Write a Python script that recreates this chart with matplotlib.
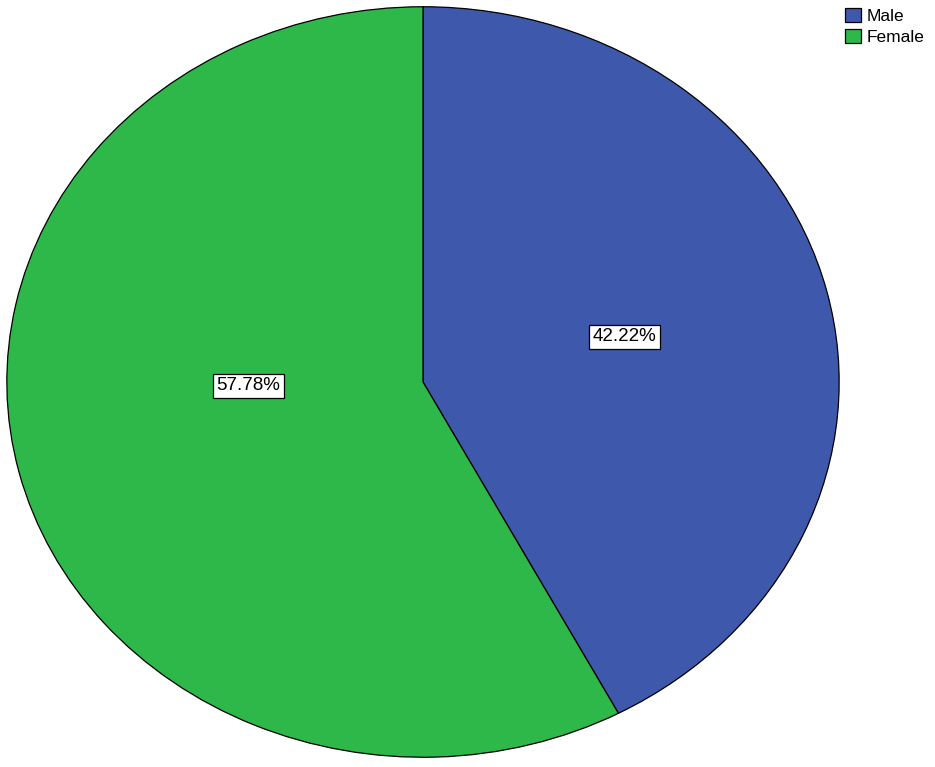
import matplotlib.pyplot as plt
from matplotlib.patches import Patch

# Gender split
labels = ["Male", "Female"]
shares = [42.22, 57.78]
colors = ["#3e58ac", "#2eb84a"]

plt.rcParams["font.family"] = ["Liberation Sans", "DejaVu Sans"]

fig = plt.figure(figsize=(9.35, 7.67), dpi=100)
ax = fig.add_axes([6 / 935, 9 / 767, 834 / 935, 752 / 767])

wedges, texts, autotexts = ax.pie(
    shares, colors=colors, startangle=90, counterclock=False,
    autopct="%.2f%%", pctdistance=0.5,
    wedgeprops=dict(edgecolor="black", linewidth=0.9),
    textprops=dict(fontsize=13.5),
)
ax.set_aspect("auto")
ax.set_xlim(-1.002, 1.002)
ax.set_ylim(-1.002, 1.002)

# SPSS puts the bigger slice's label closer to the middle
autotexts[1].set_position((-0.42, -0.01))
for t in autotexts:
    t.set_bbox(dict(facecolor="white", edgecolor="black", linewidth=0.9, pad=2.5))

handles = [Patch(facecolor=c, edgecolor="black", linewidth=0.9) for c in colors]
fig.legend(handles, labels, loc="upper left", bbox_to_anchor=(845 / 935, 1 - 8 / 767),
           frameon=False, fontsize=12.5, handlelength=0.95, handleheight=0.85,
           handletextpad=0.3, labelspacing=0.3, borderaxespad=0, borderpad=0)

fig.savefig("out.png", dpi=100, facecolor="white")
